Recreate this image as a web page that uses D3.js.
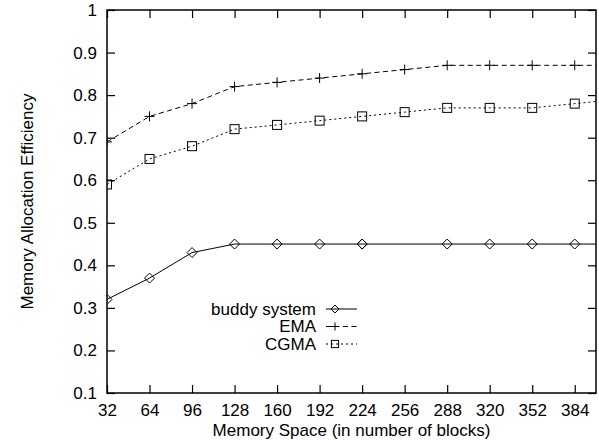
<!DOCTYPE html>
<html>
<head>
<meta charset="utf-8">
<script src="https://cdn.jsdelivr.net/npm/d3@7"></script>
<style>
  body { margin: 0; background: #fff; }
  svg { display: block; font-family: 'Liberation Sans', Arial, sans-serif; }
</style>
</head>
<body>
<svg id="chart" width="599" height="440"></svg>
<script>
// x positions (memory space, blocks); the last point lies past the right edge and is clipped
const xBuddy = [32, 64, 96, 128, 160, 192, 224, 224, 288, 320, 352, 384, 416]
const buddy  = [0.32, 0.37, 0.43, 0.45, 0.45, 0.45, 0.45, 0.45, 0.45, 0.45, 0.45, 0.45, 0.45]
const xOther = [32, 64, 96, 128, 160, 192, 224, 256, 288, 320, 352, 384, 416]
const ema    = [0.69, 0.75, 0.78, 0.82, 0.83, 0.84, 0.85, 0.86, 0.87, 0.87, 0.87, 0.87, 0.87]
const cgma   = [0.59, 0.65, 0.68, 0.72, 0.73, 0.74, 0.75, 0.76, 0.77, 0.77, 0.77, 0.78, 0.79]
const xTicks = [32, 64, 96, 128, 160, 192, 224, 256, 288, 320, 352, 384]
const yTicks = [0.1, 0.2, 0.3, 0.4, 0.5, 0.6, 0.7, 0.8, 0.9, 1]

const width = 599
const height = 440
const margin = { top: 10, right: 3, bottom: 47, left: 107 }
const fontSize = 17

const svg = d3.select('#chart')

const x = d3.scaleLinear()
  .domain([32, 400])
  .range([margin.left, width - margin.right])

const y = d3.scaleLinear()
  .domain([0.1, 1])
  .range([height - margin.bottom, margin.top])

const x0 = margin.left, x1 = width - margin.right
const y0 = height - margin.bottom, y1 = margin.top

svg.append('defs').append('clipPath').attr('id', 'plot')
  .append('rect')
  .attr('x', x0).attr('y', y1)
  .attr('width', x1 - x0).attr('height', y0 - y1)

// axes with inward ticks, mirrored on top and right
svg.append('g')
  .attr('transform', `translate(0,${y0})`)
  .call(d3.axisBottom(x).tickValues(xTicks).tickSize(-8).tickPadding(11).tickFormat(d3.format('d')))
svg.append('g')
  .attr('transform', `translate(0,${y1})`)
  .call(d3.axisTop(x).tickValues(xTicks).tickSize(-8).tickFormat(''))
svg.append('g')
  .attr('transform', `translate(${x0},0)`)
  .call(d3.axisLeft(y).tickValues(yTicks).tickSize(-8).tickPadding(10).tickFormat(d => d === 1 ? '1' : d3.format('.1f')(d)))
svg.append('g')
  .attr('transform', `translate(${x1},0)`)
  .call(d3.axisRight(y).tickValues(yTicks).tickSize(-8).tickFormat(''))

svg.selectAll('.domain').remove()
svg.selectAll('.tick line').attr('stroke', '#000').attr('stroke-width', 1.2)
svg.selectAll('.tick text').attr('fill', '#000').style('font-size', fontSize + 'px')

svg.append('rect')
  .attr('x', x0).attr('y', y1)
  .attr('width', x1 - x0).attr('height', y0 - y1)
  .attr('fill', 'none')
  .attr('stroke', '#000')
  .attr('stroke-width', 1.5)

// marker shapes
function marker(g, type, cx, cy, r = 5) {
  if (type === 'diamond') {
    g.append('path')
      .attr('d', `M${cx},${cy - r}L${cx + r},${cy}L${cx},${cy + r}L${cx - r},${cy}Z`)
      .attr('fill', 'none').attr('stroke', '#000').attr('stroke-width', 1)
  } else if (type === 'plus') {
    g.append('path')
      .attr('d', `M${cx - r},${cy}H${cx + r}M${cx},${cy - r}V${cy + r}`)
      .attr('fill', 'none').attr('stroke', '#000').attr('stroke-width', 1)
  } else {
    const h = r * 0.9
    g.append('rect')
      .attr('x', cx - h).attr('y', cy - h)
      .attr('width', 2 * h).attr('height', 2 * h)
      .attr('fill', 'none').attr('stroke', '#000').attr('stroke-width', 1)
  }
}

const series = [
  { name: 'buddy system', xs: xBuddy, ys: buddy, dash: null, mark: 'diamond' },
  { name: 'EMA', xs: xOther, ys: ema, dash: '5,3.5', mark: 'plus' },
  { name: 'CGMA', xs: xOther, ys: cgma, dash: '2,3', mark: 'square' }
]

const line = d3.line()
  .x(d => x(d[0]))
  .y(d => y(d[1]))

const plot = svg.append('g').attr('clip-path', 'url(#plot)')

series.forEach(s => {
  const pts = s.xs.map((xv, i) => [xv, s.ys[i]])
  plot.append('path')
    .attr('d', line(pts))
    .attr('fill', 'none')
    .attr('stroke', '#000')
    .attr('stroke-width', 1)
    .attr('stroke-dasharray', s.dash)
  pts.filter(p => p[0] <= 400).forEach(p => marker(plot, s.mark, x(p[0]), y(p[1])))
})

// legend
const legend = svg.append('g')
series.forEach((s, i) => {
  const ly = 309 + i * 17.5
  legend.append('text')
    .attr('x', 316).attr('y', ly).attr('dy', '0.35em')
    .attr('text-anchor', 'end')
    .style('font-size', fontSize + 'px')
    .text(s.name)
  legend.append('line')
    .attr('x1', 326).attr('x2', 357)
    .attr('y1', ly).attr('y2', ly)
    .attr('stroke', '#000').attr('stroke-width', 1)
    .attr('stroke-dasharray', s.dash)
  marker(legend, s.mark, 335, ly, 4)
})

// axis titles
svg.append('text')
  .attr('x', (x0 + x1) / 2).attr('y', 436)
  .attr('text-anchor', 'middle')
  .style('font-size', fontSize + 'px')
  .text('Memory Space (in number of blocks)')

svg.append('text')
  .attr('transform', `translate(33,${(y0 + y1) / 2}) rotate(-90)`)
  .attr('text-anchor', 'middle')
  .style('font-size', fontSize + 'px')
  .text('Memory Allocation Efficiency')
</script>
</body>
</html>
